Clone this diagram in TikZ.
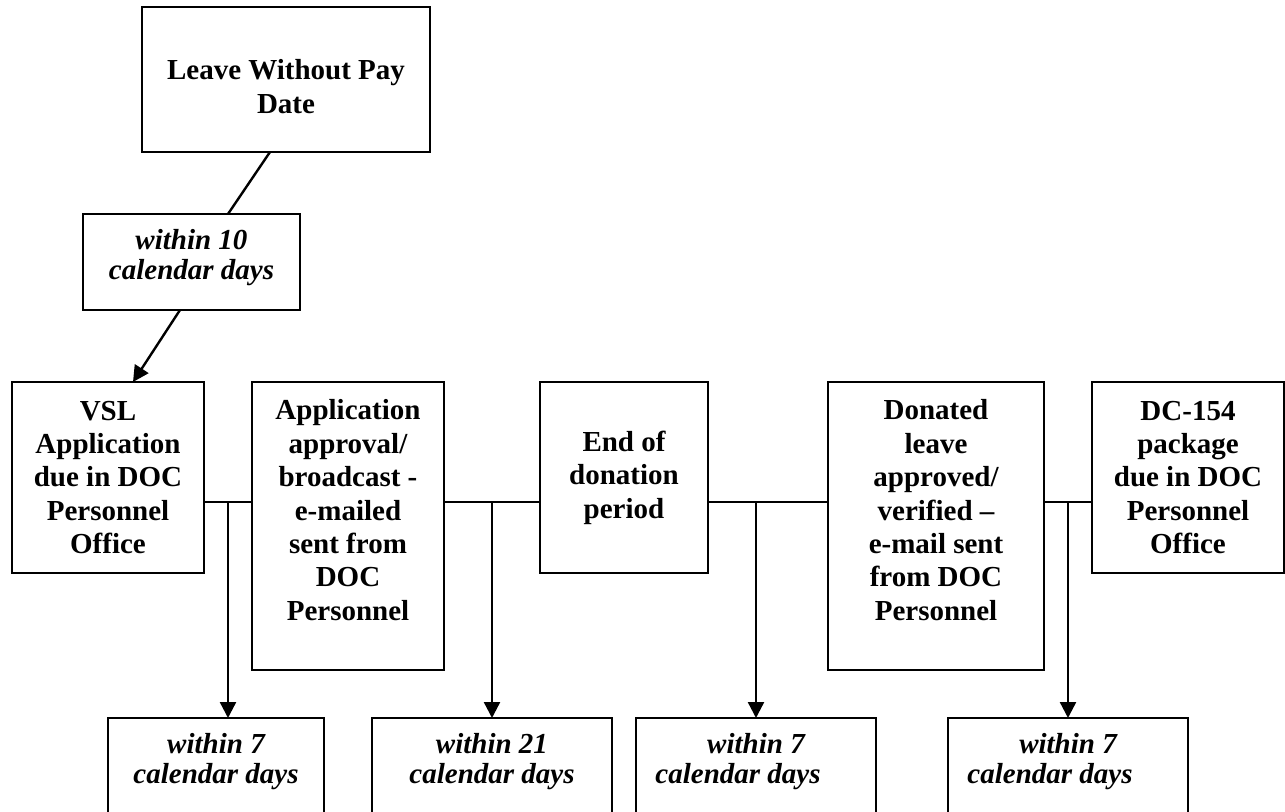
\documentclass[tikz,border=0pt]{standalone}
\usepackage{fontspec}
\setmainfont{Liberation Serif}
\usetikzlibrary{positioning, arrows.meta, calc}

\begin{document}
\begin{tikzpicture}[x=0.5pt, y=-0.5pt, >={Triangle[width=8pt,length=8pt]}, line width=1.2pt,
    stepbox/.style={draw, rectangle, align=center, inner sep=2pt, outer sep=0pt, font=\fontsize{14.5}{16.7}\selectfont\bfseries},
    daysbox/.style={stepbox, minimum height=48pt, font=\fontsize{14.5}{15}\selectfont\bfseries\itshape, execute at end node={\rule[-8pt]{0pt}{8pt}}}]

    \useasboundingbox (0,0) rectangle (1285,812);
    \clip (0,0) rectangle (1285,812);

    % --- Begin Leave Without Pay Node ---
		\node [stepbox, minimum width=144pt, minimum height=72.5pt, anchor=north west] (LeaveWithoutPay) at (142,7) {\rule{0pt}{17pt}Leave Without Pay\\Date};
		\node [daysbox, minimum width=108.5pt, anchor=north west] (within_10_days) at (83,214) {within 10\\calendar days};
		% --- End Leave Without Pay Node ---

		% --- Begin Middle Row ---
    \node [stepbox, minimum width=96pt, minimum height=95.5pt, anchor=north west] (VSLApplication) at (12,382) {
			VSL\\Application\\due in DOC\\Personnel\\Office
		};
		\node [stepbox, minimum width=96pt, minimum height=144pt, right=24pt of VSLApplication.north east, anchor=north west] (ApprovalBroadcast) {
			Application\\approval/\\broadcast -\\e-mailed\\sent from\\DOC\\Personnel\rule[-16pt]{0pt}{16pt}
		};
		\node [stepbox, minimum width=84pt, minimum height=95.5pt, right=48pt of ApprovalBroadcast.north east, anchor=north west] (EndDonation) {
			End of\\donation\\period
		};
		\node [stepbox, minimum width=108pt, minimum height=144pt, right=60pt of EndDonation.north east, anchor=north west] (DonatedLeave) {
			Donated\\leave\\approved/\\verified --\\e-mail sent\\from DOC\\Personnel\rule[-16pt]{0pt}{16pt}
		};
		\node [stepbox, minimum width=96pt, minimum height=95.5pt, right=24pt of DonatedLeave.north east, anchor=north west] (DCPackage) {
			DC-154\\package\\due in DOC\\Personnel\\Office
		};
		% --- End Middle Row ---

		% --- Begin Bottom Row ---
    \node [daysbox, minimum width=108pt, anchor=north west] (within_7_days_a) at (108,718) {within 7\\calendar days};
		\node [daysbox, minimum width=120pt, right=24pt of within_7_days_a.north east, anchor=north west] (within_21_days) {within 21\\calendar days};
		\node [daysbox, minimum width=120pt, right=12pt of within_21_days.north east, anchor=north west] (within_7_days_b) {within 7\\calendar days\hspace*{18pt}};
		\node [daysbox, minimum width=120pt, right=36pt of within_7_days_b.north east, anchor=north west] (within_7_days_c) {within 7\\calendar days\hspace*{18pt}};
		% --- End Bottom Row ---

    % Connect the nodes.
    \draw ([xshift=-8pt]LeaveWithoutPay.south) -- ([xshift=18.25pt]within_10_days.north);
    \draw[->] ([xshift=-5.75pt]within_10_days.south) -- ([xshift=12.5pt]VSLApplication.north);

    \coordinate (bus) at (0,502);
    \draw (VSLApplication.east |- bus) -- (ApprovalBroadcast.west |- bus);
    \draw (ApprovalBroadcast.east |- bus) -- (EndDonation.west |- bus);
    \draw (EndDonation.east |- bus) -- (DonatedLeave.west |- bus);
    \draw (DonatedLeave.east |- bus) -- (DCPackage.west |- bus);

    % Split points on the connecting line.
    \coordinate (split_a) at ($(VSLApplication.east |- bus)!0.5!(ApprovalBroadcast.west |- bus)$);
    \coordinate (split_b) at ($(ApprovalBroadcast.east |- bus)!0.5!(EndDonation.west |- bus)$);
    \coordinate (split_c) at ($(EndDonation.east |- bus)!0.4!(DonatedLeave.west |- bus)$);
    \coordinate (split_d) at ($(DonatedLeave.east |- bus)!0.5!(DCPackage.west |- bus)$);

    \draw[->] (split_a) -- (split_a |- within_7_days_a.north);
    \draw[->] (split_b) -- (split_b |- within_21_days.north);
    \draw[->] (split_c) -- (split_c |- within_7_days_b.north);
    \draw[->] (split_d) -- (split_d |- within_7_days_c.north);

  \end{tikzpicture}
\end{document}
